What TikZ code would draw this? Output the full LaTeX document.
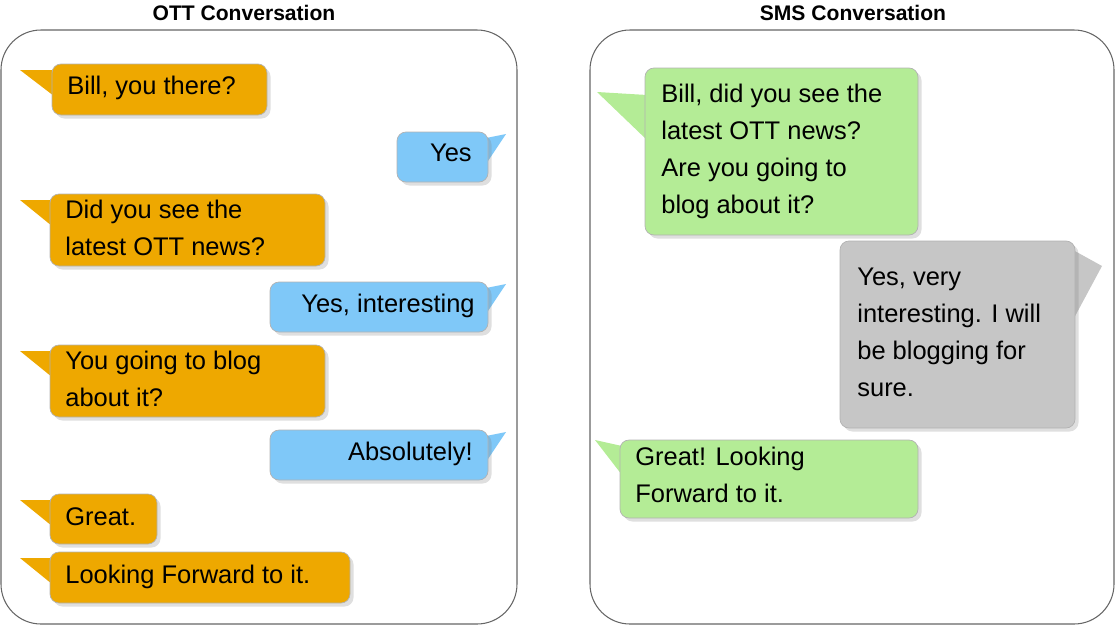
\documentclass[tikz,border=0pt]{standalone}
\usepackage{fontspec}
\setmainfont{Liberation Sans}
\usetikzlibrary{shadows}
\definecolor{ott}{HTML}{EEA800}
\definecolor{blu}{HTML}{7FC8F8}
\definecolor{grn}{HTML}{B4EC96}
\definecolor{gry}{HTML}{C6C6C6}
\begin{document}
\begin{tikzpicture}[x=0.02cm,y=-0.02cm,
 frame/.style={draw=black!60,line width=0.6pt,rounded corners=0.8cm},
 title/.style={font=\bfseries\fontsize{12}{14}\selectfont},
 bub/.style={rounded corners=0.18cm,draw=white!70!black,line width=0.4pt,drop shadow={opacity=0.25,shadow xshift=2pt,shadow yshift=-2pt}},
 txt/.style={font=\fontsize{14.5}{21}\selectfont,align=left,anchor=north west,inner sep=0pt},
 txtr/.style={font=\fontsize{14.5}{21}\selectfont,align=right,anchor=north east,inner sep=0pt}]
\useasboundingbox (0,0) rectangle (1116,626);
\draw[frame] (1,30) rectangle (517,624);
\draw[frame] (590,30) rectangle (1114,624);
\node[title] (t1) at (244,13) {OTT Conversation};
\node[title] (t2) at (853,13) {SMS Conversation};
% left bubbles
\newcommand\lb[6]{% color x0 y0 x1 y1 tipx
 \fill[#1] (#2+2,#3+6) -- (#6,#3+6) -- (#2+2,#3+32) -- cycle;
 \path[bub,fill=#1] (#2,#3) rectangle (#4,#5);}
\newcommand\rb[6]{%
 \fill[#1] (#4-2,#3+6) -- (#6,#3+2) -- (#4-2,#3+32) -- cycle;
 \path[bub,fill=#1] (#2,#3) rectangle (#4,#5);}
\lb{ott}{52}{64}{267}{115}{20}
\node[txt] (o1) at (67,76) {Bill, you there?};
\rb{blu}{397}{132}{488}{182}{506}
\node[txtr] (b1) at (472,144) {Yes};
\lb{ott}{50}{194}{325}{266}{20}
\node[txt] (o2) at (65,200) {Did you see the\\latest OTT news?};
\rb{blu}{270}{282}{488}{332}{506}
\node[txtr] (b2) at (475,294) {Yes, interesting};
\lb{ott}{50}{345}{325}{417}{20}
\node[txt] (o3) at (65,351) {You going to blog\\about it?};
\rb{blu}{270}{430}{488}{480}{506}
\node[txtr] (b3) at (473,442) {Absolutely!};
\lb{ott}{50}{494}{157}{544}{20}
\node[txt] (o4) at (65,507) {Great.};
\lb{ott}{50}{552}{350}{603}{20}
\node[txt] (o5) at (65,565) {Looking Forward to it.};
% right
\fill[grn] (647,95) -- (597,92) -- (647,140) -- cycle;
\path[bub,fill=grn] (645,68) rectangle (918,235);
\node[txt] (g1) at (661,84) {Bill, did you see the\\latest OTT news?\\Are you going to\\blog about it?};
\fill[gry] (1073,250) -- (1102,266) -- (1073,320) -- cycle;
\path[bub,fill=gry] (840,241) rectangle (1075,428);
\node[txt] (s1) at (857,268) {Yes, very\\interesting. I will\\be blogging for\\sure.};
\fill[grn] (622,446) -- (595,440) -- (622,475) -- cycle;
\path[bub,fill=grn] (620,440) rectangle (918,518);
\node[txt] (g2) at (635,447) {Great! Looking\\Forward to it.};
\end{tikzpicture}
\end{document}
